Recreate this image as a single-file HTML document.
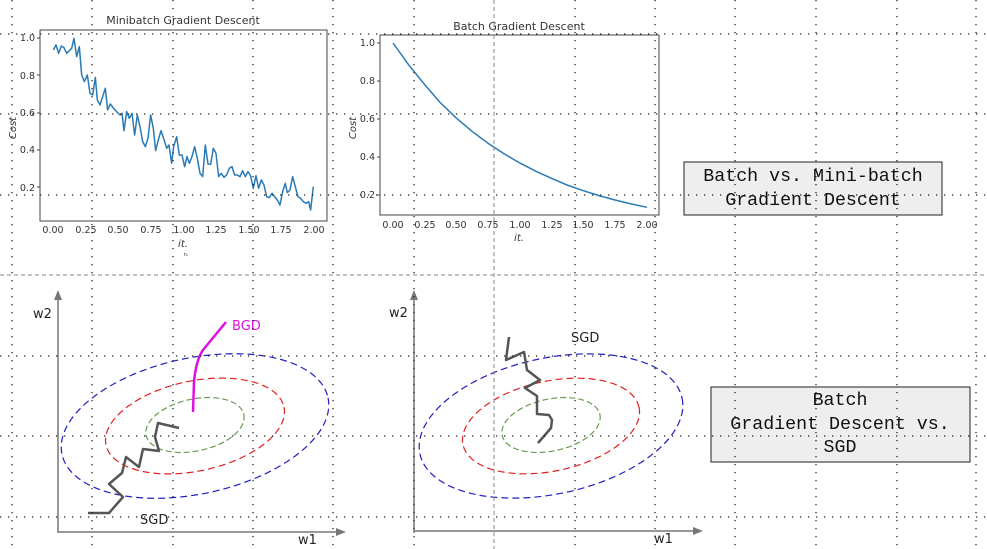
<!DOCTYPE html>
<html><head><meta charset="utf-8"><style>
html,body{margin:0;padding:0;background:#fff;}
svg{display:block;}
.t{font-family:"DejaVu Sans","Liberation Sans",sans-serif;fill:#333;}
.m{font-family:"Liberation Mono","DejaVu Sans Mono",monospace;fill:#111;font-size:18.3px;}
.l{font-family:"DejaVu Sans","Liberation Sans",sans-serif;fill:#222;font-size:13px;}
</style></head><body>
<svg width="987" height="549" viewBox="0 0 987 549" xmlns="http://www.w3.org/2000/svg">
<rect width="987" height="549" fill="#fff"/>

<!-- Chart 1 -->
<text class="t" x="183" y="24" font-size="11" text-anchor="middle">Minibatch Gradient Descent</text>
<rect x="40" y="30" width="287" height="191" fill="none" stroke="#444" stroke-width="1"/>
<g class="t" font-size="9.5" text-anchor="end">
<text x="35" y="41">1.0</text><text x="35" y="79">0.8</text><text x="35" y="116">0.6</text><text x="35" y="153">0.4</text><text x="35" y="191">0.2</text>
</g>
<g stroke="#444"><line x1="37" x2="40" y1="38" y2="38"/><line x1="37" x2="40" y1="75" y2="75"/><line x1="37" x2="40" y1="113" y2="113"/><line x1="37" x2="40" y1="150" y2="150"/><line x1="37" x2="40" y1="187" y2="187"/></g>
<g class="t" font-size="9.5" text-anchor="middle">
<text x="53" y="233">0.00</text><text x="86" y="233">0.25</text><text x="118" y="233">0.50</text><text x="151" y="233">0.75</text><text x="184" y="233">1.00</text><text x="216" y="233">1.25</text><text x="249" y="233">1.50</text><text x="281" y="233">1.75</text><text x="314" y="233">2.00</text>
</g>
<text class="t" x="183" y="247" font-size="10" font-style="italic" text-anchor="middle">it.</text>
<text class="t" x="186" y="256" font-size="5" text-anchor="middle">n.</text>
<text class="t" x="16" y="128" font-size="10" font-style="italic" text-anchor="middle" transform="rotate(-90 16 128)">Cost</text>
<g transform="scale(0.3333)">
<polyline fill="none" stroke="#2a7ab5" stroke-width="4.5" stroke-linejoin="round" points="160,150 168,135 176,160 184,138 192,143 200,160 215,145 222,115 230,170 238,140 245,225 253,245 262,225 270,280 278,285 286,232 292,300 300,315 308,290 316,265 323,330 331,312 345,330 360,345 366,340 372,392 380,335 388,355 396,340 404,405 412,345 420,380 428,425 436,440 444,415 452,345 460,385 467,452 475,420 483,392 491,415 500,445 507,435 515,490 521,440 530,410 538,465 546,465 554,500 561,470 568,490 576,470 584,440 592,475 600,520 608,530 616,435 624,492 632,493 640,445 648,460 656,530 664,520 672,532 680,525 688,505 696,500 704,525 712,525 720,530 728,512 736,530 744,515 752,528 760,565 768,527 776,565 784,540 792,555 800,590 808,593 816,580 824,590 832,600 840,615 848,575 856,550 862,578 870,570 878,530 886,560 894,590 902,595 910,605 918,610 926,605 932,630 940,560"/>
</g>

<!-- Chart 2 -->
<text class="t" x="519" y="30" font-size="11" text-anchor="middle">Batch Gradient Descent</text>
<rect x="380" y="35" width="279" height="180" fill="none" stroke="#444" stroke-width="1"/>
<g class="t" font-size="9.5" text-anchor="end">
<text x="375" y="46">1.0</text><text x="375" y="84">0.8</text><text x="375" y="122">0.6</text><text x="375" y="160">0.4</text><text x="375" y="198">0.2</text>
</g>
<g stroke="#444"><line x1="377" x2="380" y1="43" y2="43"/><line x1="377" x2="380" y1="81" y2="81"/><line x1="377" x2="380" y1="119" y2="119"/><line x1="377" x2="380" y1="157" y2="157"/><line x1="377" x2="380" y1="195" y2="195"/></g>
<g class="t" font-size="9.5" text-anchor="middle">
<text x="393" y="228">0.00</text><text x="425" y="228">0.25</text><text x="456" y="228">0.50</text><text x="488" y="228">0.75</text><text x="520" y="228">1.00</text><text x="552" y="228">1.25</text><text x="583" y="228">1.50</text><text x="615" y="228">1.75</text><text x="647" y="228">2.00</text>
</g>
<text class="t" x="519" y="241" font-size="10" font-style="italic" text-anchor="middle">it.</text>
<text class="t" x="356" y="128" font-size="10" font-style="italic" text-anchor="middle" transform="rotate(-90 356 128)">Cost</text>
<polyline fill="none" stroke="#2a7ab5" stroke-width="1.5" points="393,43 409,65.3 425,85 440,102.4 456,117.8 472,131.3 488,143.2 504,153.8 520,163.1 536,171.3 552,178.6 567,185 583,190.6 599,195.6 615,200 631,203.9 647,207.3"/>

<!-- Boxes -->
<rect x="684" y="162" width="258" height="53" fill="#eeeeee" stroke="#222" stroke-width="1"/>
<text class="m" x="813" y="181" text-anchor="middle">Batch vs. Mini-batch</text>
<text class="m" x="813" y="205" text-anchor="middle">Gradient Descent</text>
<rect x="711" y="387" width="259" height="75" fill="#eeeeee" stroke="#222" stroke-width="1"/>
<text class="m" x="840" y="405" text-anchor="middle">Batch</text>
<text class="m" x="840" y="429" text-anchor="middle">Gradient Descent vs.</text>
<text class="m" x="840" y="452" text-anchor="middle">SGD</text>

<!-- Bottom -->
<g stroke="#777" stroke-width="1.5" fill="none">
<line x1="58" y1="296" x2="58" y2="533"/><line x1="58" y1="532" x2="340" y2="532"/>
<line x1="414" y1="296" x2="414" y2="533"/><line x1="414" y1="531" x2="697" y2="531"/>
</g>
<polygon points="58,290 54,300 62,300" fill="#777"/>
<polygon points="346,532 336,528 336,536" fill="#777"/>
<polygon points="414,290 410,300 418,300" fill="#777"/>
<polygon points="703,531 693,527 693,535" fill="#777"/>
<text class="l" x="33" y="318">w2</text><text class="l" x="298" y="544">w1</text>
<text class="l" x="389" y="317">w2</text><text class="l" x="654" y="543">w1</text>

<g fill="none" stroke-width="1.2">
<ellipse cx="195" cy="426" rx="136" ry="68" transform="rotate(-12 195 426)" stroke="#2020c0" stroke-dasharray="7 4"/>
<ellipse cx="195" cy="426" rx="91" ry="45" transform="rotate(-12 195 426)" stroke="#e02020" stroke-dasharray="7 4"/>
<ellipse cx="195" cy="425" rx="50" ry="26" transform="rotate(-12 195 425)" stroke="#6a9a50" stroke-dasharray="6 3"/>
<ellipse cx="551" cy="426" rx="134" ry="68" transform="rotate(-12 551 426)" stroke="#2020c0" stroke-dasharray="7 4"/>
<ellipse cx="551" cy="426" rx="90" ry="45" transform="rotate(-12 551 426)" stroke="#e02020" stroke-dasharray="7 4"/>
<ellipse cx="551" cy="425" rx="50" ry="26" transform="rotate(-12 551 425)" stroke="#6a9a50" stroke-dasharray="6 3"/>
</g>
<path d="M193,412 L194,382 Q196,360 203,350 L226,322" fill="none" stroke="#e010e0" stroke-width="2.5"/>
<text class="l" x="232" y="330" style="fill:#e010e0">BGD</text>
<polyline fill="none" stroke="#555" stroke-width="2.5" stroke-linejoin="round" points="88,513 109,513 123,497 109,484 122,473 126,457 139,467 143,449 159,451 155,437 158,423 179,428"/>
<text class="l" x="140" y="524">SGD</text>
<polyline fill="none" stroke="#555" stroke-width="2.5" stroke-linejoin="round" points="509,337 506,360 524,352 527,370 540,380 525,388 537,396 537,414 549,415 552,420 551,428 538,443"/>
<text class="l" x="571" y="342">SGD</text>

<!-- dotted grid -->
<g stroke="#222" stroke-width="1.3" stroke-dasharray="1.3 6.7" fill="none">
<line x1="12" y1="0" x2="12" y2="549"/><line x1="92" y1="0" x2="92" y2="549"/><line x1="173" y1="0" x2="173" y2="549"/><line x1="253" y1="0" x2="253" y2="549"/><line x1="333" y1="0" x2="333" y2="549"/><line x1="414" y1="0" x2="414" y2="549"/><line x1="575" y1="0" x2="575" y2="549"/><line x1="655" y1="0" x2="655" y2="549"/><line x1="735" y1="0" x2="735" y2="549"/><line x1="816" y1="0" x2="816" y2="549"/><line x1="897" y1="0" x2="897" y2="549"/><line x1="976" y1="0" x2="976" y2="549"/>
<line x1="0" y1="34" x2="987" y2="34"/><line x1="0" y1="114" x2="987" y2="114"/><line x1="0" y1="195" x2="987" y2="195"/><line x1="0" y1="356" x2="987" y2="356"/><line x1="0" y1="436" x2="987" y2="436"/><line x1="0" y1="517" x2="987" y2="517"/>
</g>
<g stroke="#888" stroke-width="1" stroke-dasharray="4 3">
<line x1="494" y1="0" x2="494" y2="549"/><line x1="0" y1="275" x2="987" y2="275"/>
</g>
</svg>
</body></html>
